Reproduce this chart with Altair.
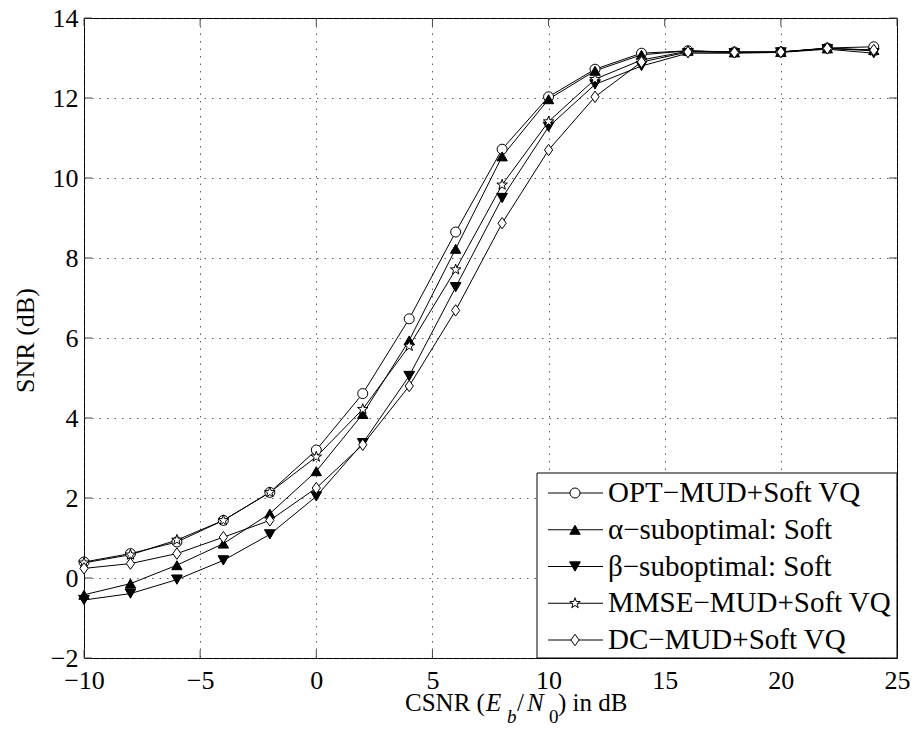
import altair as alt
import pandas as pd

# ---------------- data ----------------
csnr = [-10, -8, -6, -4, -2, 0, 2, 4, 6, 8, 10, 12, 14, 16, 18, 20, 22, 24]
opt_mud = [0.40, 0.61, 0.90, 1.44, 2.14, 3.20, 4.61, 6.48, 8.65, 10.72, 12.03, 12.72, 13.12, 13.18, 13.15, 13.15, 13.25, 13.28]
alpha_sub = [-0.42, -0.14, 0.32, 0.86, 1.61, 2.67, 4.10, 5.94, 8.23, 10.54, 11.97, 12.68, 13.08, 13.18, 13.14, 13.15, 13.24, 13.20]
beta_sub = [-0.55, -0.39, -0.04, 0.44, 1.09, 2.04, 3.37, 5.05, 7.27, 9.50, 11.28, 12.34, 12.80, 13.12, 13.12, 13.14, 13.22, 13.12]
mmse_mud = [0.38, 0.58, 0.95, 1.44, 2.14, 3.03, 4.22, 5.80, 7.71, 9.83, 11.41, 12.47, 12.95, 13.17, 13.15, 13.15, 13.24, 13.18]
dc_mud = [0.24, 0.36, 0.61, 1.02, 1.44, 2.25, 3.33, 4.80, 6.69, 8.87, 10.70, 12.03, 12.90, 13.15, 13.14, 13.15, 13.24, 13.20]

names = ["OPT\u2212MUD+Soft VQ", "\u03b1\u2212suboptimal: Soft", "\u03b2\u2212suboptimal: Soft",
         "MMSE\u2212MUD+Soft VQ", "DC\u2212MUD+Soft VQ"]
series_values = [opt_mud, alpha_sub, beta_sub, mmse_mud, dc_mud]

x_ticks = [-10, -5, 0, 5, 10, 15, 20, 25]
y_ticks = [-2, 0, 2, 4, 6, 8, 10, 12, 14]

# ---------------- styling ----------------
FONT = "Liberation Serif"
STAR = "M0,-1L0.235,-0.324L0.951,-0.309L0.380,0.124L0.588,0.809L0,0.4L-0.588,0.809L-0.380,0.124L-0.951,-0.309L-0.235,-0.324Z"
DIAMOND = "M0,-1L0.72,0L0,1L-0.72,0Z"
shapes = ["circle", "triangle-up", "triangle-down", STAR, DIAMOND]
fills = ["white", "black", "black", "white", "white"]
sizes = [100, 130, 130, 160, 180]

W, H = 813, 640
TOP = 10
LEFT = 76
RIGHT = 902 - LEFT - W
BOTTOM = 720 - TOP - H

rows = []
for n, vals in zip(names, series_values):
    for xv, yv in zip(csnr, vals):
        rows.append({"x": xv, "y": yv, "series": n})
df = pd.DataFrame(rows)

xscale = alt.Scale(domain=[-10, 25], nice=False, zero=False)
yscale = alt.Scale(domain=[-2, 14], nice=False, zero=False)
shape_enc = alt.Shape("series:N", scale=alt.Scale(domain=names, range=shapes), legend=None)
fill_enc = alt.Fill("series:N", scale=alt.Scale(domain=names, range=fills), legend=None)
size_enc = alt.Size("series:N", scale=alt.Scale(domain=names, range=sizes), legend=None)

x_axis = alt.Axis(values=x_ticks, title=None, grid=True, domain=False, ticks=False,
                  labelFont=FONT, labelFontSize=26, labelColor="black", labelFlush=False,
                  labelPadding=9, gridDash=[1.5, 6], gridColor="#333", gridOpacity=0.8)

lines = alt.Chart(df).mark_line(color="black", strokeWidth=1).encode(
    x=alt.X("x:Q", scale=xscale, axis=x_axis),
    y=alt.Y("y:Q", scale=yscale,
            axis=alt.Axis(values=y_ticks, grid=True, domain=False, ticks=False,
                          labelFont=FONT, labelFontSize=26, labelColor="black", labelFlush=False,
                          labelPadding=6, gridDash=[1.5, 6], gridColor="#333", gridOpacity=0.8,
                          title="SNR (dB)", titleFont=FONT, titleFontSize=26, titleFontWeight="normal",
                          titleColor="black", titleX=-51, titleY=322, titleAngle=-90,
                          titleAlign="center", titleBaseline="alphabetic")),
    detail="series:N",
    order="x:Q",
)

points = alt.Chart(df).mark_point(filled=True, stroke="black", strokeWidth=1, opacity=1).encode(
    x=alt.X("x:Q", scale=xscale, axis=x_axis),
    y=alt.Y("y:Q", scale=yscale, axis=None),
    shape=shape_enc, fill=fill_enc, size=size_enc,
)

# inward ticks (Matlab style)
xt = pd.DataFrame({"x": x_ticks})
yt = pd.DataFrame({"v": y_ticks})
tick_col = "#444"
tb = alt.Chart(xt).mark_rule(color=tick_col, strokeWidth=1).encode(
    x=alt.X("x:Q", scale=xscale, axis=x_axis), y=alt.value(H), y2=alt.value(H - 8))
tt = alt.Chart(xt).mark_rule(color=tick_col, strokeWidth=1).encode(
    x=alt.X("x:Q", scale=xscale, axis=x_axis), y=alt.value(0), y2=alt.value(8))
tl = alt.Chart(yt).mark_rule(color=tick_col, strokeWidth=1).encode(
    y=alt.Y("v:Q", scale=yscale, axis=None), x=alt.value(0), x2=alt.value(8))
tr = alt.Chart(yt).mark_rule(color=tick_col, strokeWidth=1).encode(
    y=alt.Y("v:Q", scale=yscale, axis=None), x=alt.value(W), x2=alt.value(W - 8))

# legend
LEG_FS = 29
leg = pd.DataFrame({"series": names, "i": list(range(len(names)))})
ly = alt.Y("i:Q", scale=alt.Scale(domain=[0, 4], range=[475, 622]), axis=None)
one = pd.DataFrame({"a": [0]})
leg_box = alt.Chart(one).mark_rect(fill="white", stroke="black", strokeWidth=1).encode(
    x=alt.value(453), x2=alt.value(W), y=alt.value(455), y2=alt.value(H))
leg_line = alt.Chart(leg).mark_rule(color="black", strokeWidth=1).encode(
    y=ly, x=alt.value(464), x2=alt.value(519))
leg_pt = alt.Chart(leg).mark_point(filled=True, stroke="black", strokeWidth=1, opacity=1).encode(
    y=ly, x=alt.value(491), shape=shape_enc, fill=fill_enc, size=size_enc)
leg_txt = alt.Chart(leg).mark_text(align="left", baseline="middle", font=FONT, fontSize=LEG_FS,
                                   color="black").encode(
    y=ly, x=alt.value(524), text="series:N")

# x title with sub-scripts
def piece(txt, px, py, size=25, style="normal"):
    return alt.Chart(one).mark_text(align="left", baseline="alphabetic", font=FONT,
                                    fontSize=size, fontStyle=style, color="black").encode(
        x=alt.value(px), y=alt.value(py), text=alt.value(txt))

base_y = 711 - 8 - TOP
sub_y = 723 - 8 - TOP
xtitle = [
    piece("CSNR (", 321, base_y),
    piece("E", 402, base_y, style="italic"),
    piece("b", 423, sub_y, size=19, style="italic"),
    piece("/", 433, base_y),
    piece("N", 443, base_y, style="italic"),
    piece("0", 465, sub_y, size=19),
    piece(") in dB", 474, base_y),
]

chart = alt.layer(
    lines, points, tb, tt, tl, tr,
    leg_box, leg_line, leg_pt, leg_txt, *xtitle
).resolve_scale(y="independent").properties(
    width=W, height=H,
    padding={"left": LEFT, "top": TOP, "right": RIGHT, "bottom": BOTTOM},
    autosize=alt.AutoSizeParams(type="none"),
).configure_view(stroke="black", strokeWidth=1)

chart.save("out.html", embed_options={"renderer": "svg", "actions": False})
